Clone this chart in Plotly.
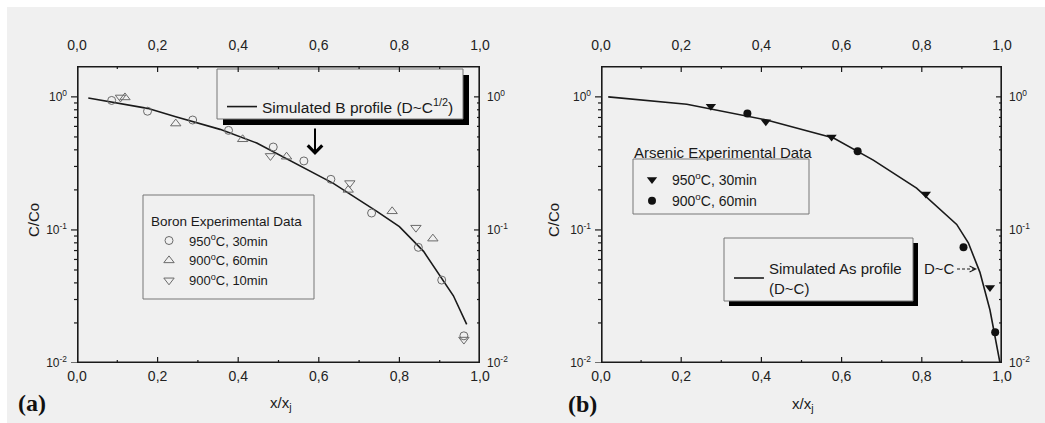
import plotly.graph_objects as go

# ---------------- data ----------------
# (a) boron: simulated profile and measured points
b_sim_x = [0.028, 0.175, 0.245, 0.355, 0.446, 0.528, 0.636, 0.744, 0.80, 0.86, 0.934, 0.967]
b_sim_y = [0.98, 0.82, 0.71, 0.57, 0.45, 0.335, 0.224, 0.138, 0.106, 0.069, 0.032, 0.0195]

b950_30_x = [0.086, 0.175, 0.287, 0.376, 0.487, 0.563, 0.630, 0.731, 0.847, 0.905, 0.960]
b950_30_y = [0.94, 0.78, 0.67, 0.56, 0.42, 0.33, 0.24, 0.134, 0.074, 0.042, 0.016]

b900_60_x = [0.119, 0.245, 0.411, 0.520, 0.673, 0.782, 0.883]
b900_60_y = [0.99, 0.63, 0.48, 0.355, 0.20, 0.138, 0.086]

b900_10_x = [0.108, 0.480, 0.677, 0.841, 0.960]
b900_10_y = [0.99, 0.36, 0.225, 0.104, 0.015]

# (b) arsenic: simulated profile and measured points
as_sim_x = [0.018, 0.214, 0.413, 0.58, 0.679, 0.787, 0.887, 0.916, 0.945, 0.970, 0.995]
as_sim_y = [1.0, 0.88, 0.67, 0.49, 0.335, 0.206, 0.11, 0.08, 0.048, 0.025, 0.01]

as950_30_x = [0.274, 0.411, 0.575, 0.810, 0.970]
as950_30_y = [0.85, 0.65, 0.50, 0.186, 0.037]

as900_60_x = [0.365, 0.640, 0.904, 0.983]
as900_60_y = [0.75, 0.39, 0.074, 0.017]

x_major = [0.0, 0.2, 0.4, 0.6, 0.8, 1.0]
x_minor = [0.1, 0.3, 0.5, 0.7, 0.9]
y_major = [0.01, 0.1, 1.0]
y_major_text = ["10<sup>-2</sup>", "10<sup>-1</sup>", "10<sup>0</sup>"]
y_minor = [m * d for d in (0.01, 0.1, 1.0) for m in range(2, 10)]

# ---------------- styling ----------------
W, H = 1045, 423
BG = "#f0f0f0"
FONT = "Arial, Liberation Sans, sans-serif"
INK = "#1a1a1a"
MARK_OPEN = "#6a6a6a"


def px(x):
    return x / W


def py(y):
    return 1 - y / H


X_RANGE = [0, 1]
Y_RANGE = [-2, 0.232]
Y_DOM = [py(363), py(66)]
XDOM_A = [px(77), px(480)]
XDOM_B = [px(601), px(1002)]
PLOT_H = 363 - 66          # panel height in pixels
PLOT_W_A = 480 - 77        # panel widths in pixels
PLOT_W_B = 1002 - 601
MAJOR_LEN, MINOR_LEN = 6, 3

fig = go.Figure()

# ---- panel (a) ----
fig.add_trace(go.Scatter(
    x=b_sim_x, y=b_sim_y, mode="lines", line=dict(color=INK, width=1.6),
    name="Simulated B profile (D~C<sup>1/2</sup>)", legend="legend2",
    xaxis="x", yaxis="y"))
fig.add_trace(go.Scatter(
    x=b950_30_x, y=b950_30_y, mode="markers", name="950<sup>o</sup>C, 30min",
    marker=dict(symbol="circle-open", size=8, color=MARK_OPEN, line=dict(width=1)),
    legend="legend", xaxis="x", yaxis="y"))
fig.add_trace(go.Scatter(
    x=b900_60_x, y=b900_60_y, mode="markers", name="900<sup>o</sup>C, 60min",
    marker=dict(symbol="triangle-up-open", size=9, color=MARK_OPEN, line=dict(width=1)),
    legend="legend", xaxis="x", yaxis="y"))
fig.add_trace(go.Scatter(
    x=b900_10_x, y=b900_10_y, mode="markers", name="900<sup>o</sup>C, 10min",
    marker=dict(symbol="triangle-down-open", size=9, color=MARK_OPEN, line=dict(width=1)),
    legend="legend", xaxis="x", yaxis="y"))

# ---- panel (b) ----
fig.add_trace(go.Scatter(
    x=as_sim_x, y=as_sim_y, mode="lines", line=dict(color=INK, width=1.6),
    name="Simulated As profile<br>(D~C)", legend="legend4",
    xaxis="x3", yaxis="y3"))
fig.add_trace(go.Scatter(
    x=as950_30_x, y=as950_30_y, mode="markers", name="950<sup>o</sup>C, 30min",
    marker=dict(symbol="triangle-down", size=9, color="#111111"),
    legend="legend3", xaxis="x3", yaxis="y3"))
fig.add_trace(go.Scatter(
    x=as900_60_x, y=as900_60_y, mode="markers", name="900<sup>o</sup>C, 60min",
    marker=dict(symbol="circle", size=8, color="#111111"),
    legend="legend3", xaxis="x3", yaxis="y3"))

# empty traces so the top / right label axes get drawn
for xa, ya in [("x2", "y"), ("x", "y2"), ("x4", "y3"), ("x3", "y4")]:
    fig.add_trace(go.Scatter(x=[], y=[], xaxis=xa, yaxis=ya,
                             showlegend=False, hoverinfo="skip"))


def frame_and_ticks(xa, ya, xa_left, plot_w):
    """panel frame, inside ticks (bottom/top/right) and outside ticks on the left"""
    ylo, yhi = 10 ** Y_RANGE[0], 10 ** Y_RANGE[1]
    dec_per_px = (Y_RANGE[1] - Y_RANGE[0]) / PLOT_H
    x_per_px = (X_RANGE[1] - X_RANGE[0]) / plot_w
    common = dict(mode="lines", showlegend=False, hoverinfo="skip")

    # frame: drawn twice as wide since the plot area clips its outer half
    fig.add_trace(go.Scatter(
        x=[X_RANGE[0], X_RANGE[1], X_RANGE[1], X_RANGE[0], X_RANGE[0]],
        y=[ylo, ylo, yhi, yhi, ylo], line=dict(color=INK, width=3.2),
        xaxis=xa, yaxis=ya, **common))

    tx, ty = [], []
    for vals, ln in ((x_major, MAJOR_LEN), (x_minor, MINOR_LEN)):
        step = 10 ** (ln * dec_per_px)
        for v in vals:
            tx += [v, v, None, v, v, None]
            ty += [ylo, ylo * step, None, yhi, yhi / step, None]
    for vals, ln in ((y_major, MAJOR_LEN), (y_minor, MINOR_LEN)):
        for v in vals:
            if v > yhi:
                continue
            tx += [X_RANGE[1], X_RANGE[1] - ln * x_per_px, None]
            ty += [v, v, None]
    fig.add_trace(go.Scatter(x=tx, y=ty, line=dict(color=INK, width=1.2),
                             xaxis=xa, yaxis=ya, **common))

    # left ticks live in a thin strip just outside the panel
    lx, ly = [], []
    for vals, start in ((y_major, 0.0), (y_minor, 1 - MINOR_LEN / MAJOR_LEN)):
        for v in vals:
            if v > yhi:
                continue
            lx += [start, 1.0, None]
            ly += [v, v, None]
    fig.add_trace(go.Scatter(x=lx, y=ly, line=dict(color=INK, width=1.2),
                             xaxis=xa_left, yaxis=ya, **common))


frame_and_ticks("x", "y", "x5", PLOT_W_A)
frame_and_ticks("x3", "y3", "x6", PLOT_W_B)


def x_axis(dom, side, anchor, overlay=None):
    ax = dict(
        domain=dom, range=X_RANGE, side=side, anchor=anchor,
        tickmode="array", tickvals=x_major, tickformat=".1f", ticks="",
        showline=False, showgrid=False, zeroline=False,
        tickfont=dict(family=FONT, size=14, color="#222222"),
        ticklabelstandoff=12 if side == "top" else 3,
    )
    if overlay:
        ax["overlaying"] = overlay
    return ax


def y_axis(dom, side, anchor, overlay=None):
    ax = dict(
        domain=dom, type="log", range=Y_RANGE, side=side, anchor=anchor,
        tickmode="array", tickvals=y_major, ticktext=y_major_text, ticks="",
        showline=False, showgrid=False, zeroline=False,
        tickfont=dict(family=FONT, size=12, color="#222222"),
        ticklabelstandoff=9 if side == "left" else 6,
    )
    if overlay:
        ax["overlaying"] = overlay
    return ax


def strip_axis(left_px, anchor):
    return dict(domain=[px(left_px - MAJOR_LEN), px(left_px)], range=[0, 1],
                anchor=anchor, visible=False, fixedrange=True)


fig.update_layout(
    width=W, height=H,
    margin=dict(l=0, r=0, t=0, b=0, autoexpand=False),
    paper_bgcolor=BG, plot_bgcolor="rgba(0,0,0,0)",
    separators=", ",
    font=dict(family=FONT, color=INK),
    xaxis=x_axis(XDOM_A, "bottom", "y"),
    xaxis2=x_axis(XDOM_A, "top", "y", overlay="x"),
    yaxis=y_axis(Y_DOM, "left", "x"),
    yaxis2=y_axis(Y_DOM, "right", "x", overlay="y"),
    xaxis3=x_axis(XDOM_B, "bottom", "y3"),
    xaxis4=x_axis(XDOM_B, "top", "y3", overlay="x3"),
    yaxis3=y_axis(Y_DOM, "left", "x3"),
    yaxis4=y_axis(Y_DOM, "right", "x3", overlay="y3"),
    xaxis5=strip_axis(77, "y"),
    xaxis6=strip_axis(601, "y3"),
    legend=dict(
        x=px(149), y=py(208), xanchor="left", yanchor="top",
        bgcolor="rgba(0,0,0,0)", borderwidth=0,
        title=dict(text="Boron Experimental Data", font=dict(size=13.5, family=FONT)),
        font=dict(size=13, family=FONT, color=INK), tracegroupgap=0,
        itemwidth=30,
    ),
    legend2=dict(
        x=px(222), y=py(107), xanchor="left", yanchor="middle",
        bgcolor="rgba(0,0,0,0)", borderwidth=0,
        font=dict(size=15.5, family=FONT, color=INK), itemwidth=30,
    ),
    legend3=dict(
        x=px(632), y=py(164), xanchor="left", yanchor="top",
        bgcolor="rgba(0,0,0,0)", borderwidth=0,
        font=dict(size=14, family=FONT, color=INK), itemwidth=30,
    ),
    legend4=dict(
        x=px(729), y=py(278), xanchor="left", yanchor="middle",
        bgcolor="rgba(0,0,0,0)", borderwidth=0,
        font=dict(size=15, family=FONT, color=INK), itemwidth=30,
    ),
)

# ---- page edge, legend frames and shadows ----
shapes = [
    dict(type="rect", xref="paper", yref="paper", x0=0, x1=1, y0=py(7), y1=1,
         fillcolor="white", line=dict(width=0), layer="below"),
    dict(type="rect", xref="paper", yref="paper", x0=0, x1=px(7), y0=0, y1=1,
         fillcolor="white", line=dict(width=0), layer="below"),
    # boron legend frame
    dict(type="rect", xref="paper", yref="paper", x0=px(143), x1=px(314), y0=py(299), y1=py(195),
         fillcolor=BG, line=dict(color="#777777", width=1), layer="below"),
    # simulated B frame with shadow
    dict(type="rect", xref="paper", yref="paper", x0=px(223), x1=px(469), y0=py(125), y1=py(75),
         fillcolor="black", line=dict(width=0), layer="below"),
    dict(type="rect", xref="paper", yref="paper", x0=px(217), x1=px(463), y0=py(119), y1=py(69),
         fillcolor=BG, line=dict(color="#777777", width=1), layer="below"),
    # arsenic legend frame
    dict(type="rect", xref="paper", yref="paper", x0=px(633), x1=px(809), y0=py(214), y1=py(159),
         fillcolor=BG, line=dict(color="#777777", width=1), layer="below"),
    # simulated As frame with shadow
    dict(type="rect", xref="paper", yref="paper", x0=px(729), x1=px(918), y0=py(306), y1=py(243),
         fillcolor="black", line=dict(width=0), layer="below"),
    dict(type="rect", xref="paper", yref="paper", x0=px(724), x1=px(913), y0=py(301), y1=py(238),
         fillcolor=BG, line=dict(color="#777777", width=1), layer="below"),
    # dashed shaft of the D~C pointer
    dict(type="line", xref="paper", yref="paper", x0=px(957), x1=px(974), y0=py(269), y1=py(269),
         line=dict(color=INK, width=1, dash="3px,2px")),
]
fig.update_layout(shapes=shapes)

ann = [
    dict(text="C/Co", x=px(33), y=py(220), textangle=-90, font=dict(size=15)),
    dict(text="C/Co", x=px(553), y=py(220), textangle=-90, font=dict(size=15)),
    dict(text="x/x<sub>j</sub>", x=px(281), y=py(403), font=dict(size=15)),
    dict(text="x/x<sub>j</sub>", x=px(803), y=py(404), font=dict(size=15)),
    dict(text="<b>(a)</b>", x=px(32), y=py(403),
         font=dict(size=24, family="Liberation Serif, Times New Roman, serif", color="#111111")),
    dict(text="<b>(b)</b>", x=px(582), y=py(404),
         font=dict(size=24, family="Liberation Serif, Times New Roman, serif", color="#111111")),
    dict(text="Arsenic Experimental Data", x=px(632), y=py(152), xanchor="left",
         font=dict(size=15)),
    dict(text="D~C", x=px(922), y=py(268), xanchor="left", font=dict(size=15)),
]
for a in ann:
    a.setdefault("xref", "paper")
    a.setdefault("yref", "paper")
    a.setdefault("showarrow", False)
    a.setdefault("xanchor", "center")
    a.setdefault("yanchor", "middle")
    a.setdefault("font", {})
    a["font"].setdefault("family", FONT)
    a["font"].setdefault("color", INK)
fig.update_layout(annotations=ann)

# arrow pointing at the B profile
fig.add_annotation(xref="paper", yref="paper", x=px(315), y=py(155), ax=0, ay=-28,
                   showarrow=True, arrowhead=4, arrowwidth=2, arrowsize=1.4,
                   arrowcolor="black", text="")
# arrowhead of the D~C pointer
fig.add_annotation(xref="paper", yref="paper", x=px(977), y=py(269), ax=-6, ay=0,
                   showarrow=True, arrowhead=5, arrowwidth=1, arrowsize=1.2,
                   arrowcolor=INK, text="")

fig.write_html("out.html")
